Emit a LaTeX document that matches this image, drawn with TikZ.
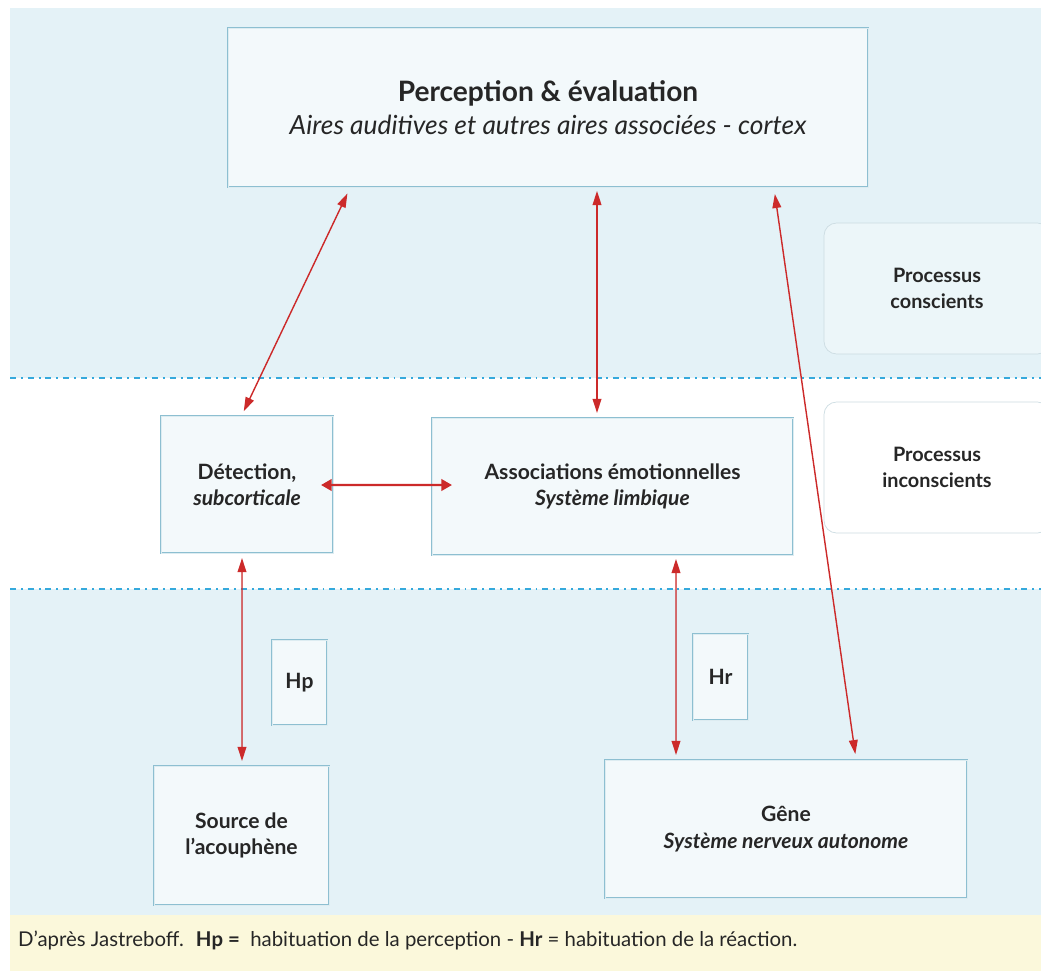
\documentclass[tikz,border=0pt]{standalone}
\usepackage{fontspec}
\setmainfont{Lato}[Ligatures=ResetAll]
\usetikzlibrary{arrows.meta,calc}
\definecolor{fond}{HTML}{E4F2F7}
\definecolor{bord}{HTML}{8DBFD1}
\definecolor{gris}{HTML}{CCDCE2}
\definecolor{fleche}{HTML}{CC2A2A}
\definecolor{tiret}{HTML}{35A9DC}
\definecolor{note}{HTML}{FBF8DB}
\definecolor{texte}{HTML}{262626}
\tikzset{
  boite/.style={draw=bord, line width=1.2pt, fill=white!55!fond, postaction={draw=white!70!bord, line width=.35pt},
    inner sep=0pt, align=center, text=texte, font=\fontsize{12}{15}\selectfont\bfseries},
  proc/.style={draw=gris, rounded corners=.25cm, line width=.4pt, inner sep=0pt, align=center, text=texte,
    minimum width=4.52cm, minimum height=2.62cm, font=\fontsize{11.3}{15}\selectfont\bfseries},
  lien/.style={{Triangle[length=8pt,width=5pt]}-{Triangle[length=8pt,width=5pt]}, draw=fleche, fill=fleche, line width=.8pt},
  separ/.style={tiret, line width=1.1pt, dash pattern=on 3.4pt off 2.8pt on 1.1pt off 2.8pt}
}
\begin{document}
\begin{tikzpicture}[x=.02cm, y=-.02cm]
	\useasboundingbox[fill=white] (0,0) rectangle (1041,971);
	% bandes de fond
	\fill[fond] (10,8) rectangle (1041,378);
	\fill[fond] (10,589) rectangle (1041,915);
	\fill[note] (10,915) rectangle (1041,971);
	\foreach \h in {378, 589}
	\draw[separ] (10,\h)--(1041,\h);
	% boites
	\node[boite, minimum width=12.8cm, minimum height=3.18cm] (perc) at (548,107.5)
		{{\fontsize{16}{18}\selectfont\bfseries Perception \& évaluation}\\[4pt]{\fontsize{15}{17}\selectfont\mdseries\itshape Aires auditives et autres aires associées - cortex}};
	\node[proc, fill=white!30!fond] (consc) at (937,288.5) {Processus\\conscients};
	\node[proc, fill=white] (incons) at (937,467.5) {Processus\\inconscients};
	\node[boite, minimum width=3.44cm, minimum height=2.74cm] (det) at (247,484.5) {Détection,\\\textit{subcorticale}};
	\node[boite, minimum width=7.22cm, minimum height=2.74cm] (assoc) at (612.5,486.5) {Associations émotionnelles\\\textit{Système limbique}};
	\node[boite, minimum width=1.1cm, minimum height=1.7cm] (hp) at (299.5,682.5) {Hp};
	\node[boite, minimum width=1.1cm, minimum height=1.72cm] (hr) at (720.5,677) {Hr};
	\node[boite, minimum width=3.5cm, minimum height=2.78cm] (src) at (241.5,835.5) {Source de\\l'acouphène};
	\node[boite, minimum width=7.24cm, minimum height=2.76cm] (gene) at (786,829) {Gêne\\\textit{Système nerveux autonome}};
	% fleches
	\draw[lien, shorten <=3.4pt, shorten >=2.3pt] ($(perc.south west)+(123,0)$)--($(det.north)+(-5,0)$);
	\draw[lien, shorten <=1.7pt, shorten >=2.3pt] ($(perc.south)+(49,0)$)--($(assoc.north)+(-15.5,0)$);
	\draw[lien, shorten <=3.4pt, shorten >=2.8pt] ($(perc.south)+(226,0)$)--($(gene.north)+(70,0)$);
	\draw[lien, shorten <=2.3pt, shorten >=2.3pt] ($(det.south)+(-5,0)$)--($(src.north)+(0.5,0)$);
	\draw[lien, shorten <=1.7pt, shorten >=2.3pt] ($(assoc.south)+(63.5,0)$)--($(gene.north)+(-110,0)$);
	\draw[{Triangle[length=6pt,width=6.5pt]}-{Triangle[length=6pt,width=6.5pt]}, fleche, line width=1.3pt]
		($(det.east)+(-13,0.5)$)--($(assoc.west)+(21,-1.5)$);
	% legende
	\node[anchor=west, text=texte, font=\fontsize{11.6}{13}\selectfont] (leg) at (12,940)
		{D'après Jastreboff.~ \textbf{Hp =}~ habituation de la perception - \textbf{Hr} = habituation de la réaction.};
\end{tikzpicture}
\end{document}
